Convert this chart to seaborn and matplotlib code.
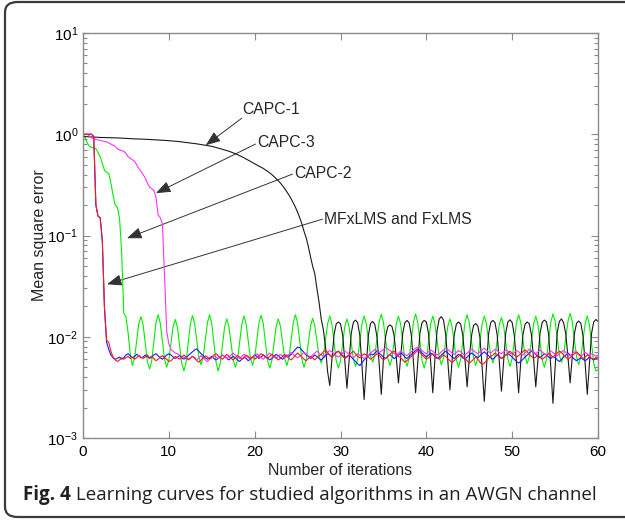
import numpy as np
import pandas as pd
import matplotlib
matplotlib.use("Agg")
import matplotlib.pyplot as plt
import seaborn as sns
from matplotlib.patches import FancyBboxPatch, FancyArrowPatch

# ---------------- data (x grid: 0 .. 60 step 0.25) ----------------
iterations = np.arange(241) * 0.25

fxlms_red = [
    1.0, 1.0, 1.0, 1.0,
    1.0, 0.95, 0.2, 0.155,
    0.15, 0.09, 0.02, 0.0092,
    0.0088, 0.0072, 0.0063, 0.0059,
    0.0057, 0.0059, 0.0062, 0.0060,
    0.0062, 0.0064, 0.0061, 0.0063,
    0.0060, 0.0062, 0.0065, 0.0063,
    0.0061, 0.0063, 0.0066, 0.0062,
    0.0064, 0.0061, 0.0058, 0.0060,
    0.0063, 0.0065, 0.0062, 0.0060,
    0.0057, 0.0058, 0.0061, 0.0064,
    0.0062, 0.0060, 0.0063, 0.0066,
    0.0063, 0.0059, 0.0061, 0.0064,
    0.0062, 0.0058, 0.0056, 0.0059,
    0.0062, 0.0065, 0.0063, 0.0060,
    0.0063, 0.0066, 0.0068, 0.0065,
    0.0062, 0.0060, 0.0063, 0.0067,
    0.0064, 0.0061, 0.0059, 0.0062,
    0.0065, 0.0063, 0.0060, 0.0062,
    0.0066, 0.0064, 0.0061, 0.0063,
    0.0060, 0.0062, 0.0065, 0.0068,
    0.0066, 0.0063, 0.0061, 0.0064,
    0.0067, 0.0065, 0.0062, 0.0059,
    0.0061, 0.0064, 0.0067, 0.0064,
    0.0061, 0.0059, 0.0062, 0.0066,
    0.0069, 0.0066, 0.0063, 0.0060,
    0.0058, 0.0061, 0.0064, 0.0062,
    0.0059, 0.0062, 0.0065, 0.0067,
    0.0071, 0.0074, 0.0070, 0.0066,
    0.0063, 0.0066, 0.0070, 0.0072,
    0.0068, 0.0064, 0.0061, 0.0063,
    0.0066, 0.0069, 0.0072, 0.0068,
    0.0064, 0.0062, 0.0065, 0.0068,
    0.0066, 0.0063, 0.0060, 0.0062,
    0.0065, 0.0068, 0.0066, 0.0062,
    0.0059, 0.0061, 0.0064, 0.0067,
    0.0070, 0.0072, 0.0068, 0.0064,
    0.0062, 0.0059, 0.0056, 0.0058,
    0.0061, 0.0064, 0.0067, 0.0070,
    0.0073, 0.0070, 0.0066, 0.0063,
    0.0060, 0.0062, 0.0065, 0.0068,
    0.0065, 0.0062, 0.0060, 0.0063,
    0.0066, 0.0064, 0.0061, 0.0058,
    0.0056, 0.0058, 0.0061, 0.0064,
    0.0067, 0.0064, 0.0061, 0.0058,
    0.0055, 0.0057, 0.0060, 0.0063,
    0.0060, 0.0056, 0.0053, 0.0055,
    0.0058, 0.0061, 0.0064, 0.0066,
    0.0069, 0.0067, 0.0064, 0.0061,
    0.0063, 0.0066, 0.0069, 0.0072,
    0.0069, 0.0066, 0.0063, 0.0065,
    0.0068, 0.0071, 0.0074, 0.0071,
    0.0067, 0.0064, 0.0061, 0.0063,
    0.0066, 0.0063, 0.0060, 0.0062,
    0.0065, 0.0068, 0.0066, 0.0063,
    0.0066, 0.0069, 0.0072, 0.0070,
    0.0066, 0.0063, 0.0060, 0.0062,
    0.0065, 0.0068, 0.0071, 0.0068,
    0.0064, 0.0061, 0.0063, 0.0066,
    0.0064, 0.0061, 0.0060, 0.0062,
    0.0063,
]

mfxlms_blue = [
    1.0, 1.0, 1.0, 1.0,
    1.0, 0.95, 0.2, 0.155,
    0.15, 0.09, 0.019, 0.0088,
    0.0075, 0.0066, 0.0062, 0.0060,
    0.0061, 0.0063, 0.0060, 0.0062,
    0.0066, 0.0068, 0.0065, 0.0062,
    0.0064, 0.0067, 0.0065, 0.0062,
    0.0063, 0.0066, 0.0064, 0.0061,
    0.0063, 0.0066, 0.0068, 0.0065,
    0.0062, 0.0060, 0.0063, 0.0066,
    0.0068, 0.0066, 0.0063, 0.0061,
    0.0063, 0.0065, 0.0062, 0.0060,
    0.0062, 0.0065, 0.0068, 0.0071,
    0.0074, 0.0076, 0.0072, 0.0068,
    0.0065, 0.0062, 0.0060, 0.0062,
    0.0064, 0.0061, 0.0059, 0.0061,
    0.0063, 0.0066, 0.0064, 0.0061,
    0.0059, 0.0062, 0.0064, 0.0062,
    0.0059, 0.0057, 0.0060, 0.0063,
    0.0061, 0.0058, 0.0060, 0.0063,
    0.0066, 0.0064, 0.0061, 0.0063,
    0.0066, 0.0064, 0.0062, 0.0059,
    0.0061, 0.0064, 0.0067, 0.0065,
    0.0062, 0.0060, 0.0063, 0.0066,
    0.0064, 0.0067, 0.0071, 0.0075,
    0.0079, 0.0078, 0.0074, 0.0070,
    0.0066, 0.0064, 0.0061, 0.0063,
    0.0066, 0.0064, 0.0061, 0.0059,
    0.0062, 0.0065, 0.0068, 0.0066,
    0.0063, 0.0066, 0.0070, 0.0072,
    0.0069, 0.0065, 0.0062, 0.0064,
    0.0066, 0.0063, 0.0060, 0.0057,
    0.0054, 0.0052, 0.0055, 0.0059,
    0.0062, 0.0065, 0.0068, 0.0066,
    0.0069, 0.0072, 0.0069, 0.0066,
    0.0063, 0.0061, 0.0064, 0.0067,
    0.0064, 0.0061, 0.0063, 0.0066,
    0.0069, 0.0067, 0.0063, 0.0061,
    0.0064, 0.0067, 0.0070, 0.0073,
    0.0076, 0.0073, 0.0069, 0.0066,
    0.0063, 0.0066, 0.0069, 0.0067,
    0.0064, 0.0061, 0.0063, 0.0066,
    0.0069, 0.0072, 0.0069, 0.0066,
    0.0063, 0.0061, 0.0064, 0.0067,
    0.0065, 0.0062, 0.0060, 0.0063,
    0.0066, 0.0069, 0.0067, 0.0064,
    0.0062, 0.0065, 0.0068, 0.0071,
    0.0068, 0.0065, 0.0062, 0.0060,
    0.0063, 0.0066, 0.0064, 0.0061,
    0.0063, 0.0066, 0.0068, 0.0066,
    0.0063, 0.0060, 0.0057, 0.0055,
    0.0057, 0.0060, 0.0063, 0.0066,
    0.0069, 0.0072, 0.0070, 0.0067,
    0.0064, 0.0062, 0.0065, 0.0068,
    0.0066, 0.0063, 0.0061, 0.0064,
    0.0062, 0.0059, 0.0057, 0.0060,
    0.0063, 0.0066, 0.0069, 0.0066,
    0.0063, 0.0060, 0.0058, 0.0060,
    0.0062, 0.0060, 0.0058, 0.0060,
    0.0063, 0.0061, 0.0059, 0.0061,
    0.0062,
]

capc3_magenta = [
    1.0, 1.0, 1.0, 0.96,
    0.92, 0.90, 0.89, 0.88,
    0.87, 0.86, 0.85, 0.84,
    0.82, 0.80, 0.78, 0.76,
    0.72, 0.70, 0.69, 0.68,
    0.65, 0.60, 0.58, 0.56,
    0.54, 0.50, 0.46, 0.43,
    0.40, 0.37, 0.33, 0.30,
    0.29, 0.28, 0.24, 0.16,
    0.15, 0.13, 0.04, 0.0115,
    0.0085, 0.0075, 0.0072, 0.0069,
    0.0068, 0.0066, 0.0064, 0.0062,
    0.0063, 0.0060, 0.0062, 0.0064,
    0.0061, 0.0059, 0.0062, 0.0065,
    0.0062, 0.0059, 0.0057, 0.0060,
    0.0062, 0.0065, 0.0063, 0.0061,
    0.0063, 0.0066, 0.0064, 0.0061,
    0.0063, 0.0066, 0.0069, 0.0066,
    0.0063, 0.0061, 0.0064, 0.0067,
    0.0065, 0.0062, 0.0060, 0.0063,
    0.0066, 0.0068, 0.0065, 0.0062,
    0.0060, 0.0063, 0.0066, 0.0069,
    0.0066, 0.0063, 0.0061, 0.0064,
    0.0067, 0.0065, 0.0062, 0.0064,
    0.0067, 0.0070, 0.0067, 0.0064,
    0.0062, 0.0064, 0.0067, 0.0070,
    0.0068, 0.0065, 0.0063, 0.0066,
    0.0069, 0.0072, 0.0069, 0.0066,
    0.0064, 0.0067, 0.0070, 0.0073,
    0.0071, 0.0068, 0.0065, 0.0063,
    0.0066, 0.0069, 0.0072, 0.0070,
    0.0067, 0.0064, 0.0062, 0.0065,
    0.0068, 0.0066, 0.0063, 0.0061,
    0.0063, 0.0066, 0.0069, 0.0072,
    0.0075, 0.0073, 0.0070, 0.0072,
    0.0075, 0.0078, 0.0076, 0.0073,
    0.0071, 0.0068, 0.0066, 0.0069,
    0.0072, 0.0070, 0.0067, 0.0065,
    0.0068, 0.0071, 0.0074, 0.0077,
    0.0079, 0.0076, 0.0073, 0.0070,
    0.0068, 0.0071, 0.0074, 0.0072,
    0.0069, 0.0066, 0.0068, 0.0071,
    0.0074, 0.0077, 0.0075, 0.0072,
    0.0069, 0.0067, 0.0070, 0.0073,
    0.0071, 0.0068, 0.0066, 0.0069,
    0.0072, 0.0075, 0.0073, 0.0070,
    0.0068, 0.0071, 0.0074, 0.0077,
    0.0074, 0.0071, 0.0069, 0.0072,
    0.0075, 0.0073, 0.0070, 0.0068,
    0.0071, 0.0074, 0.0072, 0.0069,
    0.0067, 0.0070, 0.0073, 0.0071,
    0.0068, 0.0066, 0.0069, 0.0072,
    0.0075, 0.0073, 0.0070, 0.0068,
    0.0071, 0.0074, 0.0071, 0.0068,
    0.0066, 0.0069, 0.0072, 0.0070,
    0.0067, 0.0065, 0.0068, 0.0071,
    0.0073, 0.0070, 0.0067, 0.0065,
    0.0068, 0.0071, 0.0069, 0.0066,
    0.0064, 0.0067, 0.0070, 0.0068,
    0.0065, 0.0068, 0.0066, 0.0064,
    0.0066,
]

capc2_green = [
    1.0, 0.93, 0.82, 0.76,
    0.74, 0.73, 0.72, 0.66,
    0.60, 0.52, 0.44, 0.42,
    0.41, 0.33, 0.25, 0.20,
    0.19, 0.15, 0.07, 0.017,
    0.0158, 0.011, 0.0068, 0.0052,
    0.0061, 0.0091, 0.0134, 0.0158,   # 6
    0.0132, 0.0087, 0.0057, 0.0048,
    0.0057, 0.0089, 0.0137, 0.0165,   # 8
    0.0137, 0.0091, 0.0060, 0.0050,
    0.0059, 0.0086, 0.0126, 0.0148,   # 10
    0.0124, 0.0083, 0.0055, 0.0046,
    0.0055, 0.0086, 0.0133, 0.0162,   # 12
    0.0136, 0.0093, 0.0063, 0.0053,
    0.0063, 0.0094, 0.0138, 0.0165,   # 14
    0.0135, 0.0087, 0.0056, 0.0046,
    0.0055, 0.0083, 0.0125, 0.0150,   # 16
    0.0126, 0.0087, 0.0059, 0.0050,
    0.0059, 0.0089, 0.0133, 0.0160,   # 18
    0.0134, 0.0091, 0.0062, 0.0052,
    0.0062, 0.0092, 0.0136, 0.0163,   # 20
    0.0135, 0.0089, 0.0058, 0.0049,
    0.0058, 0.0086, 0.0126, 0.0150,   # 22
    0.0127, 0.0088, 0.0061, 0.0052,
    0.0062, 0.0093, 0.0138, 0.0165,   # 24
    0.0137, 0.0091, 0.0060, 0.0050,
    0.0059, 0.0087, 0.0127, 0.0152,   # 26
    0.0130, 0.0091, 0.0064, 0.0055,
    0.0064, 0.0094, 0.0134, 0.0160,   # 28
    0.0133, 0.0088, 0.0058, 0.0049,
    0.0058, 0.0086, 0.0126, 0.0150,   # 30
    0.0126, 0.0087, 0.0060, 0.0051,
    0.0060, 0.0090, 0.0134, 0.0160,   # 32
    0.0135, 0.0095, 0.0065, 0.0056,
    0.0066, 0.0097, 0.0140, 0.0167,   # 34
    0.0139, 0.0093, 0.0062, 0.0052,
    0.0061, 0.0091, 0.0134, 0.0160,   # 36
    0.0134, 0.0090, 0.0060, 0.0051,
    0.0061, 0.0093, 0.0140, 0.0168,   # 38
    0.0139, 0.0091, 0.0058, 0.0049,
    0.0058, 0.0088, 0.0133, 0.0160,   # 40
    0.0134, 0.0092, 0.0063, 0.0053,
    0.0062, 0.0089, 0.0127, 0.0150,   # 42
    0.0126, 0.0087, 0.0059, 0.0050,
    0.0060, 0.0091, 0.0137, 0.0165,   # 44
    0.0138, 0.0093, 0.0062, 0.0052,
    0.0062, 0.0091, 0.0134, 0.0160,   # 46
    0.0135, 0.0094, 0.0065, 0.0055,
    0.0064, 0.0092, 0.0131, 0.0155,   # 48
    0.0130, 0.0089, 0.0060, 0.0051,
    0.0061, 0.0092, 0.0137, 0.0165,   # 50
    0.0139, 0.0095, 0.0064, 0.0054,
    0.0064, 0.0093, 0.0134, 0.0160,   # 52
    0.0133, 0.0089, 0.0059, 0.0050,
    0.0060, 0.0092, 0.0139, 0.0168,   # 54
    0.0142, 0.0097, 0.0066, 0.0056,
    0.0066, 0.0098, 0.0142, 0.0170,   # 56
    0.0141, 0.0095, 0.0063, 0.0053,
    0.0063, 0.0092, 0.0134, 0.0160,   # 58
    0.0131, 0.0086, 0.0055, 0.0046,
    0.0047,
]

capc1_black = [
    0.950, 0.948, 0.945, 0.943,
    0.940, 0.938, 0.935, 0.933,
    0.930, 0.929, 0.928, 0.926,
    0.925, 0.924, 0.922, 0.921,
    0.920, 0.918, 0.915, 0.913,
    0.910, 0.908, 0.905, 0.903,
    0.900, 0.899, 0.898, 0.896,
    0.895, 0.892, 0.890, 0.887,
    0.885, 0.882, 0.880, 0.877,
    0.875, 0.872, 0.870, 0.867,
    0.865, 0.861, 0.857, 0.854,
    0.850, 0.845, 0.840, 0.835,
    0.830, 0.825, 0.820, 0.815,
    0.810, 0.804, 0.797, 0.791,
    0.785, 0.779, 0.772, 0.766,
    0.760, 0.750, 0.740, 0.730,
    0.720, 0.710, 0.700, 0.690,
    0.680, 0.668, 0.655, 0.643,
    0.630, 0.615, 0.600, 0.585,
    0.570, 0.555, 0.540, 0.525,
    0.510, 0.497, 0.485, 0.472,
    0.460, 0.445, 0.430, 0.415,
    0.400, 0.382, 0.365, 0.347,
    0.330, 0.310, 0.290, 0.270,
    0.250, 0.230, 0.210, 0.190,
    0.170, 0.150, 0.130, 0.110,
    0.095, 0.078, 0.062, 0.050,
    0.042, 0.030, 0.022, 0.015,
    0.0118, 0.0080, 0.0045, 0.0033,   # 28
    0.0060, 0.0105, 0.0134, 0.0140,   # 29
    0.0134, 0.0104, 0.0058, 0.0031,
    0.0058, 0.0108, 0.0139, 0.0146,   # 31
    0.0138, 0.0103, 0.0052, 0.0024,
    0.0052, 0.0104, 0.0135, 0.0142,   # 33
    0.0132, 0.0100, 0.0055, 0.0027,
    0.0060, 0.0100, 0.0125, 0.0131,   # 35
    0.0126, 0.0102, 0.0062, 0.0035,
    0.0062, 0.0108, 0.0138, 0.0145,   # 37
    0.0137, 0.0104, 0.0056, 0.0028,
    0.0056, 0.0108, 0.0138, 0.0145,   # 39
    0.0140, 0.0108, 0.0057, 0.0028,
    0.0060, 0.0115, 0.0150, 0.0158,   # 41
    0.0146, 0.0106, 0.0058, 0.0030,
    0.0058, 0.0104, 0.0133, 0.0140,   # 43
    0.0133, 0.0103, 0.0060, 0.0032,
    0.0060, 0.0101, 0.0129, 0.0135,   # 45
    0.0128, 0.0098, 0.0050, 0.0023,
    0.0050, 0.0106, 0.0138, 0.0145,   # 47
    0.0138, 0.0105, 0.0057, 0.0029,
    0.0057, 0.0109, 0.0140, 0.0147,   # 49
    0.0138, 0.0103, 0.0056, 0.0028,
    0.0056, 0.0104, 0.0133, 0.0140,   # 51
    0.0134, 0.0104, 0.0060, 0.0032,
    0.0060, 0.0109, 0.0139, 0.0146,   # 53
    0.0140, 0.0105, 0.0050, 0.0022,
    0.0050, 0.0110, 0.0142, 0.0150,   # 55
    0.0137, 0.0106, 0.0063, 0.0035,
    0.0063, 0.0107, 0.0136, 0.0143,   # 57
    0.0136, 0.0102, 0.0055, 0.0027,
    0.0055, 0.0108, 0.0140, 0.0148,   # 59
    0.0142,
]

series_names = ["CAPC-2", "CAPC-1", "MFxLMS", "CAPC-3", "FxLMS"]
series_colors = ["#00ee00", "#1a1a1a", "#1a1aff", "#ff33ff", "#ff1a1a"]

annot_texts = ["CAPC-1", "CAPC-3", "CAPC-2", "MFxLMS and FxLMS"]
annot_text_xy = [(18.5, 1.77), (20.3, 0.82), (24.6, 0.413), (28.1, 0.145)]
annot_tail_xy = [(18.5, 1.44), (20.1, 0.80), (24.4, 0.404), (27.9, 0.145)]
annot_head_xy = [(14.3, 0.78), (8.5, 0.262), (5.13, 0.094), (2.8, 0.033)]

x_ticks = [0, 10, 20, 30, 40, 50, 60]
caption_bold = "Fig. 4"
caption_rest = " Learning curves for studied algorithms in an AWGN channel"

# ---------------- plotting ----------------
sns.set_style("ticks")
plt.rcParams["font.family"] = ["Liberation Sans", "DejaVu Sans"]
plt.rcParams["mathtext.default"] = "regular"

W, H = 625, 522
fig = plt.figure(figsize=(W / 100, H / 100), dpi=100)
ax = fig.add_axes([83 / W, 1 - 438 / H, (598 - 83) / W, (438 - 33) / H])

df = pd.DataFrame({
    "x": np.tile(iterations, 5),
    "y": np.concatenate([capc2_green, capc1_black, mfxlms_blue, capc3_magenta, fxlms_red]),
    "alg": np.repeat(series_names, len(iterations)),
})
sns.lineplot(data=df, x="x", y="y", hue="alg", hue_order=series_names,
             palette=series_colors, estimator=None, lw=0.8, ax=ax, legend=False)

ax.set_yscale("log")
ax.set_xlim(0, 60)
ax.set_ylim(1e-3, 1e1)
ax.set_xticks(x_ticks)
ax.set_xlabel("Number of iterations", fontsize=11.5, labelpad=3)
ax.set_ylabel("Mean square error", fontsize=11.5, labelpad=0)

for s in ax.spines.values():
    s.set_visible(True)
    s.set_color("#8a8a8a")
    s.set_linewidth(1.0)
ax.tick_params(which="both", direction="in", top=True, right=True,
               color="#8a8a8a", labelcolor="black", labelsize=11)
ax.tick_params(which="major", length=5, width=0.8)
ax.tick_params(which="minor", length=3, width=0.8)
ax.tick_params(axis="x", which="major", pad=5)
ax.tick_params(axis="x", which="minor", top=False, bottom=False)

for txt, txy, tail, head in zip(annot_texts, annot_text_xy, annot_tail_xy, annot_head_xy):
    ax.text(txy[0], txy[1], txt, fontsize=11.3, ha="left", va="center")
    arr = FancyArrowPatch(tail, head, arrowstyle="-|>,head_length=0.9,head_width=0.35",
                          mutation_scale=10, color="#333333", lw=0.7, shrinkA=0, shrinkB=0)
    ax.add_patch(arr)

# outer rounded frame
frame = FancyBboxPatch((5 / W, 5 / H), (640 - 5) / W, (520 - 5) / H,
                       boxstyle="round,pad=0,rounding_size=0.02",
                       transform=fig.transFigure, fill=False, ec="#3a3a3a", lw=1.6,
                       clip_on=False)
fig.patches.append(frame)

# caption, fitted to the width it has in the reference (x = 23 .. 598 px)
renderer = fig.canvas.get_renderer()
cap_font = ["Open Sans", "DejaVu Sans"]
base = 15.0
t1 = fig.text(23 / W, 1 - 500 / H, caption_bold, fontsize=base, fontweight="bold",
              family=cap_font, color="#231f20", va="baseline", ha="left")
t2 = fig.text(0, 1 - 500 / H, caption_rest, fontsize=base,
              family=cap_font, color="#231f20", va="baseline", ha="left")
w_total = t1.get_window_extent(renderer).width + t2.get_window_extent(renderer).width
size = base * 575 / w_total
t1.set_fontsize(size)
t2.set_fontsize(size)
bb = t1.get_window_extent(renderer)
t2.set_x(bb.x1 / W)

fig.savefig("out.png", dpi=100)
